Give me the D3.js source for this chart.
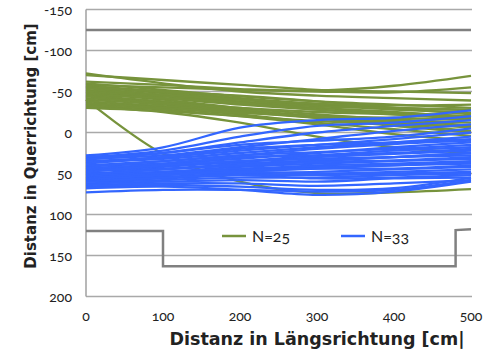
<!DOCTYPE html>
<html>
<head>
<meta charset="utf-8">
<script src="https://cdn.jsdelivr.net/npm/d3@7"></script>
<style>
  body { margin: 0; background: #fff; }
  svg text { font-family: Lato, "Open Sans", sans-serif; font-variant-numeric: oldstyle-nums; fill: #222; }
  svg text.title { font-family: "DejaVu Sans", sans-serif; font-weight: bold; }
</style>
</head>
<body>
<div id="chart"></div>
<script>
// x positions (cm) where every track was sampled
const xPositions = [0, 100, 200, 300, 400, 500];

// green tracks (N=25), lateral distance in cm at each x position
const greenSeries = [
  [-72, -60, -50, -45, -42, -39],
  [-70, -64, -58, -52, -50, -48],
  [-62, -58, -53, -51, -57, -69],
  [-58, -55, -52, -50, -49, -55],
  [-60, -52, -44, -38, -34, -30],
  [-57, -50, -42, -35, -30, -27],
  [-56, -48, -40, -33, -28, -24],
  [-55, -50, -45, -38, -30, -22],
  [-54, -46, -38, -32, -30, -28],
  [-52, -46, -40, -35, -33, -34],
  [-50, -44, -36, -30, -25, -18],
  [-50, -42, -34, -28, -24, -20],
  [-48, -40, -30, -22, -16, -12],
  [-46, -42, -36, -28, -22, -16],
  [-45, -38, -30, -25, -22, -18],
  [-44, -36, -28, -20, -14, -9],
  [-42, -36, -28, -18, -8, 0],
  [-40, -34, -26, -18, -12, -6],
  [-40, 26, 60, 74, 73, 69],
  [-38, -32, -25, -18, -10, -2],
  [-36, -30, -22, -12, -4, 4],
  [-35, -30, -24, -20, -18, -15],
  [-33, -28, -20, -10, 2, 10],
  [-32, -25, -12, 5, 18, 25],
  [-30, -26, -20, -14, -10, -8]
];

// blue tracks (N=33)
const blueSeries = [
  [28, 18, -6, -15, -18, -27],
  [30, 22, 5, -8, -12, -20],
  [30, 25, 12, 0, -8, -15],
  [32, 28, 18, 8, -2, -10],
  [33, 25, 15, 10, 5, -5],
  [35, 30, 22, 15, 8, 0],
  [36, 32, 25, 18, 12, 5],
  [38, 30, 20, 15, 12, 8],
  [40, 35, 28, 20, 14, 10],
  [40, 38, 32, 25, 18, 12],
  [42, 35, 28, 24, 20, 15],
  [43, 40, 35, 28, 22, 18],
  [45, 38, 30, 28, 25, 20],
  [46, 42, 36, 30, 26, 22],
  [47, 44, 40, 35, 30, 25],
  [48, 40, 35, 32, 30, 28],
  [50, 45, 38, 34, 30, 25],
  [50, 48, 42, 38, 35, 32],
  [52, 45, 40, 36, 34, 30],
  [53, 50, 45, 40, 38, 35],
  [54, 48, 44, 42, 40, 38],
  [55, 52, 48, 44, 40, 36],
  [56, 50, 46, 44, 44, 40],
  [57, 54, 50, 48, 45, 42],
  [58, 52, 48, 50, 48, 45],
  [59, 56, 52, 52, 50, 48],
  [60, 58, 55, 55, 52, 50],
  [60, 55, 52, 56, 55, 52],
  [62, 60, 58, 60, 56, 55],
  [64, 62, 62, 65, 62, 58],
  [66, 64, 66, 70, 68, 55],
  [68, 66, 70, 76, 72, 60],
  [73, 70, 70, 72, 70, 58]
];

// boundary lines (gray)
const upperEdgeX = [0, 500];
const upperEdgeY = [-125, -125];
const lowerEdgeX = [0, 100, 100, 480, 480, 500];
const lowerEdgeY = [120, 120, 163, 163, 119, 118];

const xTicks = [0, 100, 200, 300, 400, 500];
const yTicks = [-150, -100, -50, 0, 50, 100, 150, 200];
const legendLabels = ["N=25", "N=33"];
const colors = ["#77933c", "#3366ff"];

const width = 495, height = 350;
const margin = { top: 9.5, right: 24, bottom: 53.5, left: 86 };

const svg = d3.select("#chart").append("svg")
  .attr("width", width)
  .attr("height", height);

const x = d3.scaleLinear().domain([0, 500]).range([margin.left, width - margin.right]);
const y = d3.scaleLinear().domain([-150, 200]).range([margin.top, height - margin.bottom]);

// gridlines
svg.append("g")
  .selectAll("line")
  .data(yTicks)
  .join("line")
  .attr("x1", x(0)).attr("x2", x(500) + 1)
  .attr("y1", d => y(d)).attr("y2", d => y(d))
  .attr("stroke", "#a9a9a9")
  .attr("stroke-width", 1.5);

// left axis line
svg.append("line")
  .attr("x1", x(0)).attr("x2", x(0))
  .attr("y1", y(-150)).attr("y2", y(200))
  .attr("stroke", "#a0a0a0")
  .attr("stroke-width", 1.5);

// y tick labels
svg.append("g")
  .selectAll("text")
  .data(yTicks)
  .join("text")
  .attr("x", 72)
  .attr("y", d => y(d) + 5)
  .attr("text-anchor", "end")
  .attr("font-size", 14)
  .text(d => d);

// x tick labels
svg.append("g")
  .selectAll("text")
  .data(xTicks)
  .join("text")
  .attr("x", d => x(d))
  .attr("y", 321)
  .attr("text-anchor", "middle")
  .attr("font-size", 14)
  .text(d => d);

const line = d3.line()
  .x(d => x(d[0]))
  .y(d => y(d[1]))
  .curve(d3.curveCatmullRom.alpha(0.5));

// gray edges
const edge = d3.line().x(d => x(d[0])).y(d => y(d[1]));
svg.append("path")
  .attr("d", edge(d3.zip(upperEdgeX, upperEdgeY)))
  .attr("fill", "none")
  .attr("stroke", "#808080")
  .attr("stroke-width", 2.5);

svg.append("path")
  .attr("d", edge(d3.zip(lowerEdgeX, lowerEdgeY)))
  .attr("fill", "none")
  .attr("stroke", "#808080")
  .attr("stroke-width", 2.5);

// tracks
[greenSeries, blueSeries].forEach((series, i) => {
  svg.append("g")
    .selectAll("path")
    .data(series)
    .join("path")
    .attr("d", vals => line(d3.zip(xPositions, vals)))
    .attr("fill", "none")
    .attr("stroke", colors[i])
    .attr("stroke-width", 2.3);
});

// legend
const legend = svg.append("g");
legendLabels.forEach((lab, i) => {
  const lx = 222 + i * 119;
  legend.append("line")
    .attr("x1", lx).attr("x2", lx + 24)
    .attr("y1", 236).attr("y2", 236)
    .attr("stroke", colors[i])
    .attr("stroke-width", 2.5);
  legend.append("text")
    .attr("x", lx + 30)
    .attr("y", 242)
    .attr("font-size", 16)
    .text(lab);
});

// axis titles
svg.append("text")
  .attr("class", "title")
  .attr("x", 317)
  .attr("y", 345)
  .attr("text-anchor", "middle")
  .attr("font-size", 17.5)
  .text("Distanz in Längsrichtung [cm|");

svg.append("text")
  .attr("class", "title")
  .attr("transform", "translate(36,146) rotate(-90)")
  .attr("text-anchor", "middle")
  .attr("font-size", 15)
  .text("Distanz in Querrichtung [cm]");
</script>
</body>
</html>
